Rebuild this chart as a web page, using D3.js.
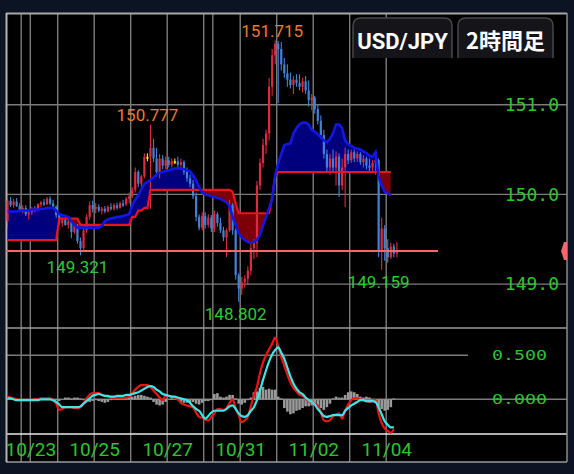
<!DOCTYPE html>
<html>
<head>
<meta charset="utf-8">
<script src="https://cdn.jsdelivr.net/npm/d3@7"></script>
<style>
  html, body { margin: 0; padding: 0; background: #0c1424; }
  svg { display: block; }
</style>
</head>
<body>
<svg id="chart"></svg>
<script>
// USD/JPY 2時間足 (10/23 - 11/04)
// ローソク足 [open, high, low, close]
var ohlc = [
  [149.70,149.96,149.62,149.93],[149.93,149.97,149.86,149.88],[149.88,149.95,149.85,149.92],[149.92,149.96,149.86,149.87],
  [149.87,149.90,149.80,149.82],[149.82,149.88,149.79,149.85],[149.85,149.88,149.76,149.78],[149.78,149.82,149.72,149.80],
  [149.80,149.86,149.77,149.84],[149.84,149.87,149.80,149.83],[149.83,149.90,149.81,149.89],[149.89,149.93,149.86,149.91],
  [149.91,149.95,149.87,149.89],[149.89,149.97,149.88,149.95],[149.95,149.98,149.88,149.90],[149.90,149.94,149.84,149.86],
  [149.86,149.88,149.74,149.77],[149.77,149.78,149.66,149.68],[149.68,149.74,149.64,149.72],[149.72,149.76,149.65,149.66],
  [149.66,149.73,149.62,149.70],[149.70,149.72,149.51,149.58],[149.58,149.68,149.56,149.65],[149.65,149.67,149.45,149.48],
  [149.48,149.52,149.321,149.40],[149.40,149.62,149.38,149.60],[149.60,149.78,149.57,149.75],[149.75,149.92,149.72,149.88],
  [149.88,149.93,149.80,149.84],[149.84,149.90,149.79,149.86],[149.86,149.89,149.80,149.82],[149.82,149.86,149.78,149.84],
  [149.84,149.87,149.79,149.81],[149.81,149.88,149.80,149.86],[149.86,149.90,149.82,149.84],[149.84,149.90,149.82,149.88],
  [149.88,149.91,149.83,149.85],[149.85,149.92,149.84,149.90],[149.90,149.94,149.86,149.89],[149.89,149.97,149.87,149.95],
  [149.95,150.02,149.90,149.98],[149.98,150.08,149.96,150.05],[150.05,150.30,150.02,150.25],[150.25,150.27,150.08,150.12],
  [150.12,150.22,150.08,150.20],[150.20,150.46,150.18,150.42],[150.42,150.46,150.37,150.42],[150.42,150.777,149.84,150.52],
  [150.52,150.62,150.36,150.40],[150.40,150.52,150.20,150.25],[150.25,150.45,150.18,150.40],[150.40,150.44,150.28,150.32],
  [150.32,150.42,150.28,150.38],[150.38,150.42,150.30,150.33],[150.33,150.40,150.30,150.37],[150.37,150.40,150.34,150.37],
  [150.37,150.42,150.30,150.33],[150.33,150.40,150.28,150.36],[150.36,150.38,150.22,150.25],[150.25,150.30,150.14,150.18],
  [150.18,150.22,150.08,150.12],[150.12,150.16,149.95,149.98],[149.98,150.02,149.70,149.75],[149.75,149.78,149.60,149.63],
  [149.63,149.80,149.60,149.76],[149.76,149.80,149.62,149.66],[149.66,149.78,149.63,149.74],[149.74,149.77,149.58,149.62],
  [149.62,149.82,149.58,149.78],[149.78,149.80,149.64,149.68],[149.68,149.74,149.57,149.60],[149.60,149.64,149.48,149.52],
  [149.52,149.62,149.30,149.60],[149.60,149.94,149.58,149.88],[149.88,149.90,149.55,149.60],[149.60,149.62,149.05,149.10],
  [149.10,149.12,148.802,148.95],[148.95,149.08,148.88,149.02],[149.02,149.10,148.96,149.06],[149.06,149.20,148.99,149.15],
  [149.15,149.45,149.10,149.40],[149.40,149.50,149.28,149.46],[149.46,150.15,149.30,150.10],[150.10,150.40,150.05,150.35],
  [150.35,150.62,150.30,150.55],[150.55,150.72,150.45,150.68],[150.68,151.30,150.60,151.20],[151.20,151.62,151.10,151.55],
  [151.55,151.715,151.45,151.68],[151.68,151.71,151.02,151.62],[151.62,151.70,151.38,151.45],[151.45,151.52,151.30,151.35],
  [151.35,151.45,151.20,151.28],[151.28,151.36,151.18,151.22],[151.22,151.32,151.12,151.28],[151.28,151.34,151.20,151.24],
  [151.24,151.34,151.16,151.20],[151.20,151.30,151.14,151.26],[151.26,151.32,151.12,151.16],[151.16,151.27,150.98,151.05],
  [151.05,151.12,150.94,151.08],[151.08,151.10,150.90,150.95],[150.95,151.00,150.78,150.82],[150.82,150.88,150.62,150.66],
  [150.66,150.72,150.40,150.45],[150.45,150.50,150.25,150.30],[150.30,150.45,150.22,150.40],[150.40,150.50,150.25,150.30],
  [150.30,150.48,150.10,150.42],[150.42,150.46,149.97,150.10],[150.10,150.40,150.05,150.30],[150.30,150.52,149.86,150.45],
  [150.45,150.50,150.34,150.38],[150.38,150.50,150.35,150.47],[150.47,150.50,150.36,150.40],[150.40,150.48,150.36,150.45],
  [150.45,150.47,150.33,150.36],[150.36,150.44,150.30,150.40],[150.40,150.42,150.28,150.32],[150.32,150.40,150.26,150.30],
  [150.30,150.38,150.24,150.35],[150.35,150.42,150.22,150.38],[150.38,150.40,149.30,149.36],[149.36,149.74,149.159,149.62],
  [149.62,149.66,149.26,149.40],[149.40,149.50,149.24,149.30],[149.30,149.46,149.28,149.42],[149.42,149.45,149.30,149.34],
  [149.34,149.47,149.30,149.37]
];

// 雲 (青線 / 赤線)
var blueLine = [
  149.81,149.81,149.81,149.81,149.82,149.82,149.82,149.82,149.83,149.83,
  149.83,149.84,149.84,149.85,149.85,149.85,149.82,149.78,149.77,149.76,
  149.75,149.70,149.66,149.63,149.63,149.63,149.63,149.63,149.63,149.63,
  149.63,149.65,149.70,149.72,149.73,149.74,149.75,149.75,149.76,149.77,
  149.78,149.88,149.94,149.99,150.06,150.12,150.14,150.16,150.19,150.22,
  150.24,150.25,150.26,150.27,150.28,150.29,150.29,150.29,150.28,150.27,
  150.26,150.21,150.16,150.08,150.02,150.00,149.99,149.98,149.97,149.96,
  149.95,149.93,149.91,149.87,149.75,149.66,149.57,149.52,149.49,149.47,
  149.46,149.47,149.49,149.55,149.65,149.75,149.85,149.94,150.21,150.35,
  150.45,150.55,150.56,150.57,150.68,150.74,150.78,150.80,150.80,150.78,
  150.72,150.70,150.67,150.64,150.60,150.58,150.62,150.68,150.78,150.78,
  150.74,150.60,150.56,150.54,150.52,150.51,150.50,150.48,150.46,150.43,
  150.42,150.47,150.20,150.10,150.03,150.01,149.99
];
var redLine = [
  149.49,149.49,149.49,149.49,149.49,149.49,149.49,149.49,149.49,149.49,
  149.49,149.49,149.49,149.49,149.49,149.49,149.49,149.73,149.73,149.73,
  149.73,149.73,149.73,149.73,149.66,149.66,149.66,149.66,149.66,149.66,
  149.66,149.66,149.66,149.66,149.66,149.66,149.66,149.66,149.66,149.66,
  149.66,149.75,149.75,149.82,149.82,149.85,149.85,150.05,150.05,150.05,
  150.05,150.05,150.05,150.05,150.05,150.05,150.05,150.05,150.05,150.05,
  150.05,150.05,150.05,150.05,150.05,150.05,150.05,150.05,150.05,150.05,
  150.05,150.05,150.05,150.05,150.03,149.90,149.79,149.79,149.79,149.79,
  149.79,149.79,149.79,149.79,149.79,149.79,149.79,149.97,150.20,150.25,
  150.25,150.25,150.25,150.25,150.25,150.25,150.25,150.25,150.25,150.25,
  150.25,150.25,150.25,150.25,150.25,150.25,150.25,150.25,150.25,150.25,
  150.25,150.25,150.25,150.25,150.25,150.25,150.25,150.25,150.25,150.25,
  150.25,150.25,150.25,150.25,150.25,150.25,150.25
];

// MACD / シグナル / ヒストグラム
var macd = [
  0.03,0.02,0.01,0.00,-0.01,-0.01,-0.01,-0.01,-0.01,0.00,
  0.00,0.01,0.01,0.01,0.01,-0.01,-0.05,-0.12,-0.11,-0.09,
  -0.09,-0.09,-0.10,-0.10,-0.09,-0.05,0.01,0.05,0.07,0.07,
  0.07,0.05,0.04,0.03,0.02,0.02,0.02,0.02,0.02,0.02,
  0.03,0.07,0.11,0.14,0.16,0.16,0.16,0.14,0.10,0.06,
  0.02,-0.01,0.04,0.04,0.03,0.02,0.00,-0.04,-0.06,-0.07,
  -0.08,-0.09,-0.15,-0.20,-0.21,-0.23,-0.24,-0.20,-0.16,-0.11,
  -0.11,-0.12,-0.10,-0.04,0.00,-0.10,-0.18,-0.26,-0.24,-0.20,
  -0.08,0.04,0.14,0.30,0.42,0.50,0.57,0.63,0.70,0.60,
  0.48,0.38,0.28,0.19,0.13,0.09,0.05,0.04,0.01,-0.02,
  -0.03,-0.05,-0.07,-0.15,-0.24,-0.25,-0.24,-0.19,-0.17,-0.16,
  -0.22,-0.13,-0.06,-0.01,0.01,0.01,0.00,-0.01,-0.02,-0.03,
  -0.02,-0.01,-0.16,-0.27,-0.33,-0.36,-0.38,-0.34
];
var signal = [
  0.01,0.01,0.00,-0.01,-0.01,-0.01,-0.01,-0.01,-0.01,-0.01,
  -0.01,0.00,0.00,0.00,0.00,-0.01,-0.03,-0.06,-0.09,-0.09,
  -0.09,-0.09,-0.09,-0.09,-0.08,-0.05,-0.02,0.01,0.04,0.05,
  0.06,0.05,0.04,0.04,0.03,0.03,0.04,0.04,0.04,0.05,
  0.05,0.06,0.07,0.08,0.10,0.12,0.14,0.15,0.14,0.11,
  0.09,0.06,0.05,0.04,0.03,0.03,0.02,0.01,0.00,-0.01,
  -0.04,-0.08,-0.11,-0.13,-0.18,-0.22,-0.19,-0.15,-0.13,-0.13,
  -0.13,-0.13,-0.11,-0.08,-0.07,-0.11,-0.16,-0.19,-0.20,-0.18,
  -0.13,-0.09,-0.01,0.10,0.22,0.33,0.43,0.51,0.56,0.59,
  0.53,0.46,0.36,0.26,0.18,0.12,0.08,0.06,0.02,-0.01,
  -0.03,-0.06,-0.11,-0.15,-0.19,-0.20,-0.19,-0.18,-0.18,-0.18,
  -0.18,-0.13,-0.10,-0.07,-0.05,-0.03,-0.01,-0.01,-0.02,-0.02,
  -0.02,-0.03,-0.09,-0.17,-0.25,-0.29,-0.32,-0.32
];
var hist = [
  0.01,0.01,0.00,0.00,0.00,0.00,0.00,0.00,0.00,0.01,
  0.01,0.00,0.00,0.01,0.00,0.00,-0.01,-0.02,0.00,0.02,
  0.02,0.01,0.02,0.02,0.01,-0.01,-0.02,-0.03,-0.02,-0.01,
  -0.02,-0.03,-0.04,-0.03,-0.01,0.00,0.01,0.01,0.01,0.02,
  0.02,0.03,0.04,0.05,0.05,0.04,0.03,0.02,-0.03,-0.06,
  -0.07,-0.06,-0.03,0.00,0.01,0.00,-0.01,-0.03,-0.04,-0.04,
  -0.03,-0.03,-0.05,-0.06,-0.04,-0.02,-0.02,-0.01,0.06,0.07,
  0.03,0.02,0.03,0.05,0.05,0.01,-0.05,-0.06,-0.04,-0.01,
  0.02,0.08,0.09,0.13,0.14,0.11,0.12,0.11,0.11,0.03,
  0.01,-0.10,-0.14,-0.17,-0.16,-0.13,-0.12,-0.10,-0.08,-0.08,
  -0.07,-0.06,-0.08,-0.10,-0.12,-0.09,-0.05,0.01,0.03,0.02,
  0.02,0.05,0.08,0.09,0.08,0.06,0.03,0.02,0.03,0.02,
  0.00,-0.04,-0.08,-0.11,-0.13,-0.12,-0.09,0.01
];

// 目盛り
var priceTicks = [149, 150, 151];
var macdTicks = [0, 0.5];
var dayLines = [4.5, 16.5, 28.5, 40.5, 52.5, 64.5, 76.5, 88.5, 100.5, 112.5, 124.5];
var weekLines = [7.5, 67.5];
var dateBars = [7.5, 28.5, 52.5, 76.5, 100.5, 124.5];
var dateLabels = ["10/23", "10/25", "10/27", "10/31", "11/02", "11/04"];
var markBars = [88, 47, 24, 76, 123];
var markKinds = ["high", "high", "low", "low", "low"];
var lastPrice = 149.37;
var symbol = "USD/JPY", period = "2時間足";

// サイズ
var W = 574, H = 474;
var left = 6, right = 567, topY = 13, mainBottom = 328, subBottom = 434, bottomY = 462;

var svg = d3.select("#chart").attr("width", W).attr("height", H);

svg.append("rect").attr("width", W).attr("height", H).attr("fill", "#0c1424");
svg.append("rect")
  .attr("x", left).attr("y", topY)
  .attr("width", right - left).attr("height", bottomY - topY)
  .attr("fill", "#000");

// スケール
var x = d3.scaleLinear().domain([0, 128]).range([7.5, 7.5 + 128 * 3.042]);
var y = d3.scaleLinear().domain([149, 151]).range([284.1, 104.7]);
var m = d3.scaleLinear().domain([0, 0.5]).range([399.3, 355.3]);

var grid = svg.append("g").attr("stroke", "#7c7c7c").attr("stroke-width", 1.4);

// 縦グリッド
grid.selectAll(".vline")
  .data(dayLines.concat(weekLines))
  .enter().append("line")
  .attr("x1", function(d){ return x(d); }).attr("x2", function(d){ return x(d); })
  .attr("y1", topY).attr("y2", bottomY);

// 横グリッド (価格)
grid.selectAll(".hline")
  .data(priceTicks)
  .enter().append("line")
  .attr("x1", left).attr("x2", right)
  .attr("y1", function(d){ return y(d); }).attr("y2", function(d){ return y(d); });

// 横グリッド (MACD)
grid.selectAll(".mline")
  .data(macdTicks)
  .enter().append("line")
  .attr("x1", left).attr("x2", function(d){ return d === 0 ? right : 468; })
  .attr("y1", function(d){ return m(d); }).attr("y2", function(d){ return m(d); });

// 枠線
svg.append("line").attr("x1", left).attr("x2", right).attr("y1", topY + 0.5).attr("y2", topY + 0.5)
  .attr("stroke", "#a8a8a8").attr("stroke-width", 2);
svg.append("line").attr("x1", left).attr("x2", right).attr("y1", mainBottom).attr("y2", mainBottom)
  .attr("stroke", "#9a9a9a").attr("stroke-width", 1.5);
svg.append("line").attr("x1", left).attr("x2", right).attr("y1", subBottom).attr("y2", subBottom)
  .attr("stroke", "#e8e8e8").attr("stroke-width", 1.5);
svg.append("line").attr("x1", left).attr("x2", right).attr("y1", bottomY).attr("y2", bottomY)
  .attr("stroke", "#9a9a9a").attr("stroke-width", 1.5);
svg.append("line").attr("x1", left + 0.5).attr("x2", left + 0.5).attr("y1", topY).attr("y2", bottomY)
  .attr("stroke", "#b4b4b4").attr("stroke-width", 2);
svg.append("line").attr("x1", right).attr("x2", right).attr("y1", topY).attr("y2", bottomY)
  .attr("stroke", "#8a8a8a").attr("stroke-width", 1.5);

// 雲の塗り (青線が上なら青, 赤線が上なら赤)
var defs = svg.append("defs");
var cloudBars = blueLine.map(function(d, i){ return i; });

defs.append("clipPath").attr("id", "aboveRed")
  .append("path")
  .attr("d", d3.area().x(function(i){ return x(i); }).y0(topY).y1(function(i){ return y(redLine[i]); })(cloudBars));
defs.append("clipPath").attr("id", "belowRed")
  .append("path")
  .attr("d", d3.area().x(function(i){ return x(i); }).y0(function(i){ return y(redLine[i]); }).y1(mainBottom)(cloudBars));

var cloud = d3.area()
  .x(function(i){ return x(i); })
  .y0(function(i){ return y(redLine[i]); })
  .y1(function(i){ return y(blueLine[i]); });

svg.append("path").attr("d", cloud(cloudBars)).attr("fill", "#00007e").attr("clip-path", "url(#aboveRed)");
svg.append("path").attr("d", cloud(cloudBars)).attr("fill", "#7c0008").attr("clip-path", "url(#belowRed)");

// ローソク足
var candleColor = function(d) {
  if (d[3] > d[0]) return "#dc2a40";
  if (d[3] < d[0]) return "#4282d6";
  return "#f2e21a";
};
var candles = svg.append("g").selectAll(".candle")
  .data(ohlc)
  .enter().append("g")
  .attr("class", "candle");

candles.append("line")
  .attr("x1", function(d, i){ return x(i); })
  .attr("x2", function(d, i){ return x(i); })
  .attr("y1", function(d){ return y(d[1]); })
  .attr("y2", function(d){ return y(d[2]); })
  .attr("stroke", candleColor)
  .attr("stroke-width", 1.1);

candles.append("rect")
  .attr("x", function(d, i){ return x(i) - 1.1; })
  .attr("width", 2.2)
  .attr("y", function(d){ return y(Math.max(d[0], d[3])); })
  .attr("height", function(d){ return Math.max(2, Math.abs(y(d[0]) - y(d[3]))); })
  .attr("fill", candleColor);

// 雲の線
var lineOf = function(arr) {
  return d3.line().x(function(d, i){ return x(i); }).y(function(d){ return y(d); })(arr);
};
svg.append("path").attr("d", lineOf(redLine)).attr("fill", "none")
  .attr("stroke", "#e8141e").attr("stroke-width", 2.2);
svg.append("path").attr("d", lineOf(blueLine)).attr("fill", "none")
  .attr("stroke", "#1218e4").attr("stroke-width", 2.6);

// 現在値ライン
svg.append("line")
  .attr("x1", left).attr("x2", 438)
  .attr("y1", y(lastPrice)).attr("y2", y(lastPrice))
  .attr("stroke", "#f06a6a").attr("stroke-width", 2);
svg.append("path")
  .attr("d", "M" + right + "," + (y(lastPrice) - 9) + " L" + (right - 3) + "," + (y(lastPrice) - 9) +
             " L" + (right - 6) + "," + y(lastPrice) + " L" + (right - 3) + "," + (y(lastPrice) + 9) +
             " L" + right + "," + (y(lastPrice) + 9) + " Z")
  .attr("fill", "#f06a6a");

// 高値・安値ラベル
svg.selectAll(".mark")
  .data(markBars)
  .enter().append("text")
  .attr("x", function(d){ return x(d) - 3; })
  .attr("y", function(d, i){
    return markKinds[i] === "high" ? y(ohlc[d][1]) - 4 : y(ohlc[d][2]) + 18;
  })
  .attr("text-anchor", "middle")
  .style("font-family", "Roboto, sans-serif")
  .style("font-size", "17px")
  .attr("fill", function(d, i){ return markKinds[i] === "high" ? "#ec7a2c" : "#30c830"; })
  .text(function(d, i){
    return d3.format(".3f")(markKinds[i] === "high" ? ohlc[d][1] : ohlc[d][2]);
  });

// MACD ヒストグラム
svg.append("g").selectAll(".bar")
  .data(hist)
  .enter().append("rect")
  .attr("x", function(d, i){ return x(i) - 1.3; })
  .attr("width", 2.6)
  .attr("y", function(d){ return Math.min(m(d), m(0)); })
  .attr("height", function(d){ return Math.abs(m(d) - m(0)); })
  .attr("fill", "#9a9a9a");

var mline = function(arr) {
  return d3.line().curve(d3.curveMonotoneX).x(function(d, i){ return x(i); }).y(function(d){ return m(d); })(arr);
};
svg.append("path").attr("d", mline(macd)).attr("fill", "none")
  .attr("stroke", "#ec1414").attr("stroke-width", 2.2);
svg.append("path").attr("d", mline(signal)).attr("fill", "none")
  .attr("stroke", "#3ee6e6").attr("stroke-width", 2.2);

// 価格軸
var priceAxis = svg.append("g")
  .attr("transform", "translate(559,0)")
  .call(d3.axisLeft(y).tickValues(priceTicks).tickFormat(d3.format(".1f")).tickSize(0).tickPadding(0));
priceAxis.select(".domain").remove();
priceAxis.selectAll("text")
  .attr("fill", "#2ec42e")
  .style("font-family", "'DejaVu Sans Mono', monospace")
  .style("font-size", "18px");

// MACD 軸
var macdAxis = svg.append("g")
  .attr("transform", "translate(547,0)")
  .call(d3.axisLeft(m).tickValues(macdTicks).tickFormat(d3.format(".3f")).tickSize(0).tickPadding(0));
macdAxis.select(".domain").remove();
macdAxis.selectAll("text")
  .attr("fill", "#2ec42e")
  .attr("textLength", 55)
  .attr("lengthAdjust", "spacingAndGlyphs")
  .style("font-family", "'DejaVu Sans Mono', monospace")
  .style("font-size", "14px");

// 日付軸
var dateAxis = svg.append("g")
  .attr("transform", "translate(0," + (subBottom + 8) + ")")
  .call(d3.axisBottom(x).tickValues(dateBars).tickFormat(function(d, i){ return dateLabels[i]; }).tickSize(0).tickPadding(0));
dateAxis.select(".domain").remove();
dateAxis.selectAll("text")
  .attr("fill", "#2ec42e")
  .attr("dy", "0.71em")
  .style("font-family", "Roboto, sans-serif")
  .style("font-size", "19px");

// 通貨ペア / 時間足 タブ
function tab(x0, x1, label, font) {
  var t = svg.append("g");
  t.append("path")
    .attr("d", "M" + x0 + ",58 L" + x0 + ",26 Q" + x0 + ",18 " + (x0 + 8) + ",18 L" + (x1 - 8) + ",18 Q" + x1 + ",18 " + x1 + ",26 L" + x1 + ",58")
    .attr("fill", "#151519")
    .attr("stroke", "#46464c")
    .attr("stroke-width", 1.5);
  t.append("text")
    .attr("x", (x0 + x1) / 2).attr("y", 49)
    .attr("text-anchor", "middle")
    .attr("fill", "#fff")
    .style("font-family", font)
    .style("font-size", "22px")
    .style("font-weight", "bold")
    .text(label);
}
tab(353, 452, symbol, "Roboto, sans-serif");
tab(458, 553, period, "'Noto Sans CJK JP', sans-serif");
</script>
</body>
</html>
